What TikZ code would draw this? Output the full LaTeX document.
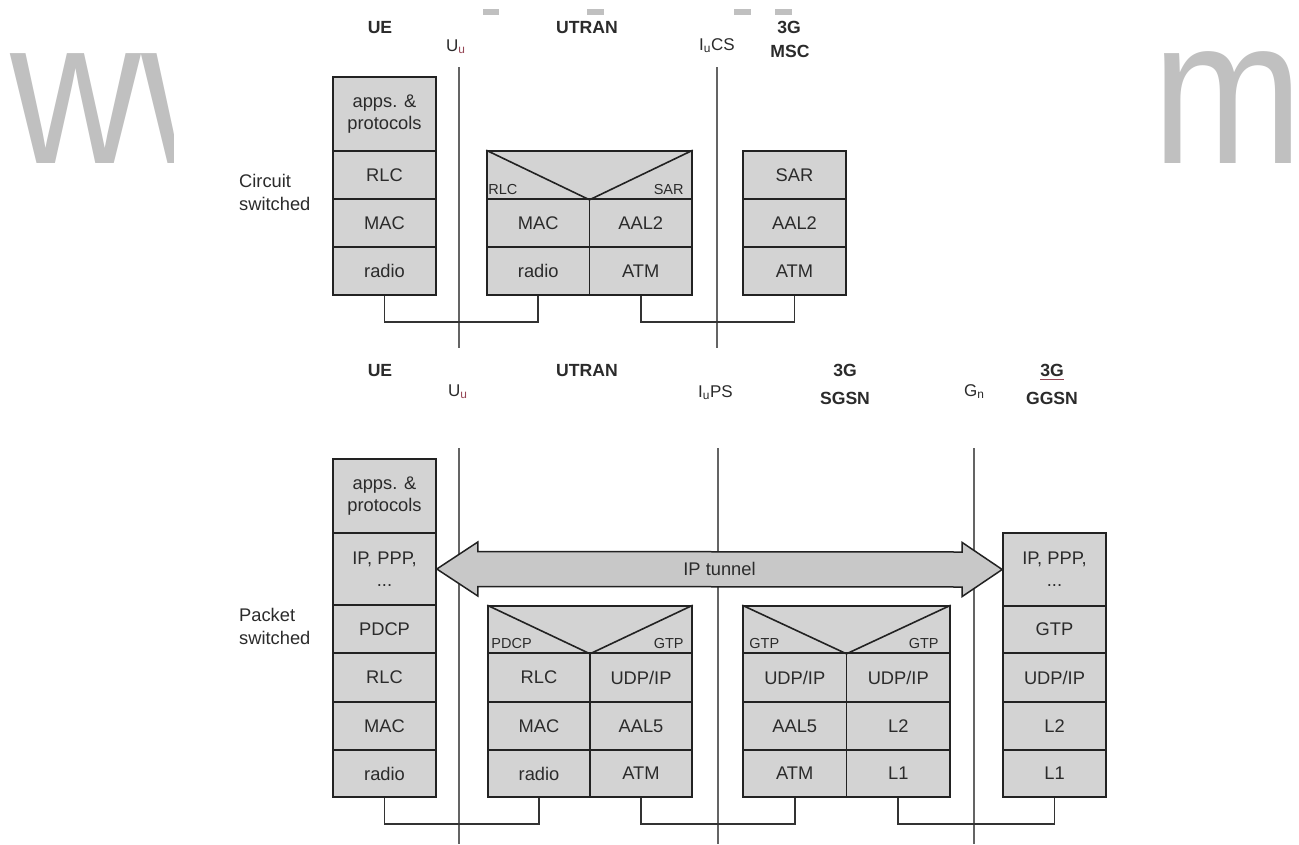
\documentclass[tikz,border=0pt]{standalone}
\usepackage{fontspec}
\setmainfont{Liberation Sans}
\usetikzlibrary{calc}
\definecolor{boxfill}{RGB}{211,211,211}
\definecolor{tunfill}{RGB}{200,200,200}
\definecolor{boxline}{RGB}{34,34,34}
\definecolor{txt}{RGB}{43,43,43}
\definecolor{ifline}{RGB}{100,100,100}
\definecolor{connline}{RGB}{51,51,51}
\definecolor{wmgray}{RGB}{192,192,192}
\definecolor{uured}{RGB}{150,70,85}
\newcommand\cellfont{\fontsize{18.3}{22}\selectfont}
\newcommand\iflfont{\fontsize{17}{20}\selectfont}
\newcommand\sidefont{\fontsize{18.3}{23}\selectfont}
\newcommand\hdrfont{\fontsize{17.6}{20}\selectfont\bfseries}
\newcommand\subfont{\fontsize{14.5}{17}\selectfont}
\newcommand\cellbox[6]{\node[cell, minimum width={(#4-#2)*1pt}, minimum height={(#5-#3)*1pt}] (#1) at ({(#2+#4)/2},{(#3+#5)/2}) {#6};}
\tikzset{
  cell/.style={draw=boxline, fill=boxfill, line width=1.6pt, inner sep=0pt, text=txt, font=\cellfont, align=center},
  hdr/.style={inner sep=0pt, anchor=base, text=txt, font=\hdrfont},
  ifl/.style={inner sep=0pt, anchor=base west, text=txt, font=\iflfont},
  side/.style={inner sep=0pt, anchor=north west, text=txt, font=\sidefont, align=left},
  sublbl/.style={inner sep=0pt, text=txt, font=\subfont},
  iface/.style={draw=ifline, line width=1.3pt},
  conn/.style={draw=connline, line width=1.6pt},
  vee/.style={draw=boxline, line width=1.6pt},
  tunnel/.style={draw=boxline, fill=tunfill, line width=1.5pt, line join=miter},
  wm/.style={inner sep=0pt, anchor=base west, text=wmgray, font=\fontsize{208}{208}\selectfont},
}
\begin{document}
\begin{tikzpicture}[x=1pt, y=-1pt]
\useasboundingbox (0,0) rectangle (1299,844);
\fill[white] (0,0) rectangle (1299,844);

% watermark
\begin{scope}
  \clip (0,0) rectangle (173,844);
  \node[wm] (wmw) at (10.7,163) {\scalebox{0.87}[1]{ww}};
\end{scope}
\node[wm] (wmm) at (1152,163) {\scalebox{0.87}[1]{m\kern-14pt}};
\fill[wmgray] (483,9) rectangle (499,15);
\fill[wmgray] (587,9) rectangle (604,15);
\fill[wmgray] (734,9) rectangle (751,15);
\fill[wmgray] (775,9) rectangle (792,15);

% ---------------- circuit switched ----------------
\coordinate (uuAt) at (459,67);  \coordinate (uuAb) at (459,348);
\coordinate (iucsT) at (717,67); \coordinate (iucsB) at (717,348);
\draw[iface] (uuAt) -- (uuAb);
\draw[iface] (iucsT) -- (iucsB);

\node[hdr] (hue1) at (380,33) {UE};
\node[hdr] (hut1) at (587,33) {UTRAN};
\node[hdr] (hmsc1) at (789,33) {3G};
\node[hdr] (hmsc2) at (790,57) {MSC};
\node[ifl] (luu1) at (446,51) {U\textsubscript{\color{uured}u}};
\node[ifl] (liucs) at (699,50) {I\textsubscript{u}CS};
\node[side] (lcs) at (239,174) {Circuit\\switched};

\cellbox{csue1}{333}{77}{436}{151}{apps. \&\\protocols}
\cellbox{csue2}{333}{151}{436}{199}{RLC}
\cellbox{csue3}{333}{199}{436}{247}{MAC}
\cellbox{csue4}{333}{247}{436}{295}{radio}

\cellbox{csut0}{487}{151}{692}{199}{}
\cellbox{csut1}{487}{199}{589.5}{247}{MAC}
\cellbox{csut2}{589.5}{199}{692}{247}{AAL2}
\cellbox{csut3}{487}{247}{589.5}{295}{radio}
\cellbox{csut4}{589.5}{247}{692}{295}{ATM}
\draw[vee] (csut0.north west) -- (csut0.south) -- (csut0.north east);
\node[sublbl, anchor=base west] (csutl) at ($(csut0.south west)+(2,-5)$) {RLC};
\node[sublbl, anchor=base east] (csutr) at ($(csut0.south east)+(-9,-5)$) {SAR};

\cellbox{csm1}{743}{151}{846}{199}{SAR}
\cellbox{csm2}{743}{199}{846}{247}{AAL2}
\cellbox{csm3}{743}{247}{846}{295}{ATM}

\draw[conn] (csue4.south) -- ++(0,26) -| (csut3.south);
\draw[conn] (csut4.south) -- ++(0,26) -| (csm3.south);

% ---------------- packet switched ----------------
\coordinate (uuBt) at (459,448);  \coordinate (uuBb) at (459,844);
\coordinate (iupsT) at (718,448); \coordinate (iupsB) at (718,844);
\coordinate (gnT) at (974,448);   \coordinate (gnB) at (974,844);
\draw[iface] (uuBt) -- (uuBb);
\draw[iface] (iupsT) -- (iupsB);
\draw[iface] (gnT) -- (gnB);

\node[hdr] (hue2) at (380,376) {UE};
\node[hdr] (hut2) at (587,376) {UTRAN};
\node[hdr] (hsg1) at (845,376) {3G};
\node[hdr] (hsg2) at (845,404) {SGSN};
\node[hdr] (hgg1) at (1052,376) {3G};
\node[hdr] (hgg2) at (1052,404) {GGSN};
\draw[uured, line width=0.8pt] (1040,379) -- (1064,379);
\node[ifl] (luu2) at (448,396) {U\textsubscript{\color{uured}u}};
\node[ifl] (liups) at (698,397) {I\textsubscript{u}PS};
\node[ifl] (lgn) at (964,396) {G\textsubscript{n}};
\node[side] (lps) at (239,608) {Packet\\switched};

\cellbox{psue1}{333}{459}{436}{533}{apps. \&\\protocols}
\cellbox{psue2}{333}{533}{436}{605}{IP, PPP,\\...}
\cellbox{psue3}{333}{605}{436}{653}{PDCP}
\cellbox{psue4}{333}{653}{436}{702}{RLC}
\cellbox{psue5}{333}{702}{436}{750}{MAC}
\cellbox{psue6}{333}{750}{436}{797}{radio}

\cellbox{psut0}{488}{606}{692}{653}{}
\cellbox{psut1}{488}{653}{590}{702}{RLC}
\cellbox{psut2}{590}{653}{692}{702}{UDP/IP}
\cellbox{psut3}{488}{702}{590}{750}{MAC}
\cellbox{psut4}{590}{702}{692}{750}{AAL5}
\cellbox{psut5}{488}{750}{590}{797}{radio}
\cellbox{psut6}{590}{750}{692}{797}{ATM}
\draw[vee] (psut0.north west) -- (psut0.south) -- (psut0.north east);
\node[sublbl, anchor=base west] (psutl) at ($(psut0.south west)+(4,-5)$) {PDCP};
\node[sublbl, anchor=base east] (psutr) at ($(psut0.south east)+(-9,-5)$) {GTP};

\cellbox{pssg0}{743}{606}{950}{653}{}
\cellbox{pssg1}{743}{653}{846.5}{702}{UDP/IP}
\cellbox{pssg2}{846.5}{653}{950}{702}{UDP/IP}
\cellbox{pssg3}{743}{702}{846.5}{750}{AAL5}
\cellbox{pssg4}{846.5}{702}{950}{750}{L2}
\cellbox{pssg5}{743}{750}{846.5}{797}{ATM}
\cellbox{pssg6}{846.5}{750}{950}{797}{L1}
\draw[vee] (pssg0.north west) -- (pssg0.south) -- (pssg0.north east);
\node[sublbl, anchor=base west] (pssgl) at ($(pssg0.south west)+(7,-5)$) {GTP};
\node[sublbl, anchor=base east] (pssgr) at ($(pssg0.south east)+(-12,-5)$) {GTP};

\cellbox{psgg1}{1003}{533}{1106}{606}{IP, PPP,\\...}
\cellbox{psgg2}{1003}{606}{1106}{653}{GTP}
\cellbox{psgg3}{1003}{653}{1106}{702}{UDP/IP}
\cellbox{psgg4}{1003}{702}{1106}{750}{L2}
\cellbox{psgg5}{1003}{750}{1106}{797}{L1}

\draw[tunnel] (psue2.east) -- ($(psue2.east)+(41,-27)$) -- ($(psue2.east)+(41,-17.5)$)
  -- ($(psgg1.west)+(-40,-17.5)$) -- ($(psgg1.west)+(-40,-27)$) -- (psgg1.west)
  -- ($(psgg1.west)+(-40,27)$) -- ($(psgg1.west)+(-40,17.5)$)
  -- ($(psue2.east)+(41,17.5)$) -- ($(psue2.east)+(41,27)$) -- cycle;
\node[text=txt, font=\cellfont, inner sep=0pt] (tun) at ($(psue2.east)!0.5!(psgg1.west)$) {IP tunnel};

\draw[conn] (psue6.south) -- ++(0,26) -| (psut5.south);
\draw[conn] (psut6.south) -- ++(0,26) -| (pssg5.south);
\draw[conn] (pssg6.south) -- ++(0,26) -| (psgg5.south);
\end{tikzpicture}
\end{document}
